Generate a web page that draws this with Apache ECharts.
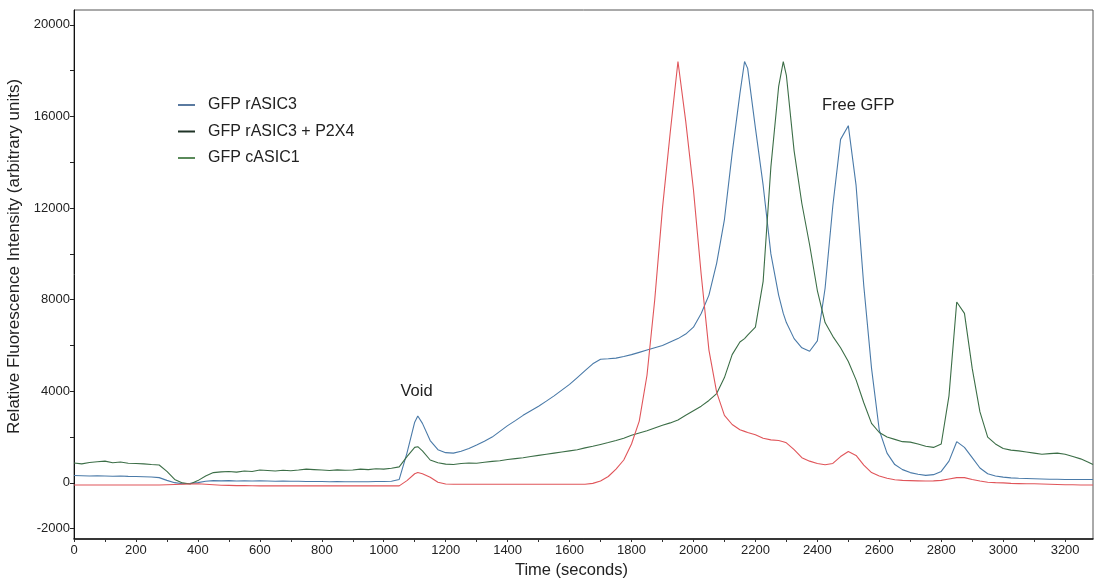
<!DOCTYPE html>
<html><head><meta charset="utf-8">
<script src="https://cdn.jsdelivr.net/npm/echarts@6/dist/echarts.min.js"></script>
<style>html,body{margin:0;padding:0;background:#fff}#c{width:1095px;height:582px}</style>
</head><body><div id="c"></div>
<script>
const time = [0,25,50,75,100,125,150,175,200,225,250,275,300,325,350,375,400,425,450,475,500,525,550,575,600,625,650,675,700,725,750,775,800,825,850,875,900,925,950,975,1000,1025,1050,1075,1100,1110,1125,1150,1175,1200,1225,1250,1275,1300,1325,1350,1375,1400,1425,1450,1475,1500,1525,1550,1575,1600,1625,1650,1675,1700,1725,1750,1775,1800,1825,1850,1875,1900,1925,1950,1975,2000,2025,2050,2075,2100,2125,2150,2165,2175,2200,2225,2250,2275,2290,2300,2325,2350,2375,2400,2425,2450,2475,2500,2525,2550,2575,2600,2625,2650,2675,2700,2725,2750,2775,2800,2825,2850,2875,2900,2925,2950,2975,3000,3025,3050,3075,3100,3125,3150,3175,3200,3225,3250,3275,3290];

const rASIC3 = [320,315,300,310,300,290,300,285,280,270,255,230,110,10,-40,-20,10,70,100,90,100,85,95,80,90,80,70,80,70,70,60,60,60,50,55,50,50,50,50,60,60,70,150,1300,2650,2920,2600,1850,1450,1320,1300,1380,1500,1650,1820,2000,2250,2500,2720,2950,3150,3350,3570,3800,4050,4300,4600,4900,5200,5400,5420,5450,5520,5600,5700,5800,5900,6000,6150,6300,6500,6800,7400,8200,9600,11500,14400,17000,18400,18100,15500,13000,10000,8200,7400,7000,6300,5900,5750,6200,8500,12100,15000,15600,13000,8600,5000,2300,1300,800,580,450,380,330,360,500,950,1800,1550,1100,650,400,300,250,220,200,190,180,170,160,160,150,150,150,150,150];

const rASIC3P2X4 = [870,830,890,920,950,880,910,860,850,830,800,780,500,150,0,-50,100,300,450,480,500,470,520,500,560,540,520,550,530,560,600,580,560,540,570,550,560,600,580,620,600,640,700,1150,1550,1580,1400,1000,880,820,800,850,870,860,900,940,970,1020,1060,1100,1150,1200,1250,1300,1350,1400,1450,1530,1600,1680,1760,1850,1950,2080,2180,2280,2400,2520,2620,2750,2950,3150,3350,3600,3900,4600,5600,6150,6300,6450,6800,8800,13800,17300,18400,17800,14500,12200,10400,8400,7000,6400,5900,5300,4500,3500,2600,2200,2000,1900,1800,1780,1700,1600,1550,1700,3800,7900,7400,5000,3100,2000,1700,1500,1430,1400,1350,1300,1250,1280,1300,1250,1150,1050,900,800];

const cASIC1 = [-90,-90,-90,-90,-90,-90,-90,-90,-90,-90,-90,-90,-80,-70,-60,-50,-40,-60,-80,-100,-110,-120,-120,-125,-130,-130,-130,-130,-130,-130,-130,-130,-130,-130,-130,-130,-130,-130,-130,-130,-130,-130,-130,100,400,450,400,250,30,-50,-60,-60,-60,-60,-60,-60,-60,-60,-60,-60,-60,-60,-60,-60,-60,-60,-60,-60,-20,80,280,600,1000,1700,2700,4700,8000,12000,15300,18400,15800,12800,9100,5800,3950,2950,2550,2320,2250,2200,2100,1950,1880,1850,1800,1750,1450,1100,950,850,790,850,1150,1370,1200,780,450,300,200,140,110,100,90,80,90,110,170,230,230,150,80,30,10,0,-20,-30,-40,-40,-50,-60,-70,-80,-80,-90,-90,-90];

const seriesNames = ['GFP rASIC3', 'GFP rASIC3 + P2X4', 'GFP cASIC1'];
const xLabelValues = [0,200,400,600,800,1000,1200,1400,1600,1800,2000,2200,2400,2600,2800,3000,3200];
const xTickValues = [0,100,200,300,400,500,600,700,800,900,1000,1100,1200,1300,1400,1500,1600,1700,1800,1900,2000,2100,2200,2300,2400,2500,2600,2700,2800,2900,3000,3100,3200];
const yLabelValues = [-2000,0,4000,8000,12000,16000,20000];
const yTickValues = [-2000,0,2000,4000,6000,8000,10000,12000,14000,16000,18000,20000];
const annotations = [{text:'Void', t:1106, v:4000}, {text:'Free GFP', t:2532, v:16500}];

const FONT = '"Liberation Sans", Arial, sans-serif';
const lineColors = ['#4a7aa8', '#3c6e47', '#e0555a'];
const legendColors = ['#5a7aa0', '#1f3326', '#5a8a5a'];
const seriesData = [rASIC3, rASIC3P2X4, cASIC1];

const chart = echarts.init(document.getElementById('c'), null, {renderer: 'canvas'});
chart.setOption({
  animation: false,
  backgroundColor: '#fff',
  textStyle: {fontFamily: FONT},
  grid: {left: 74, right: 2, top: 10, bottom: 43, show: true, borderColor: '#555', borderWidth: 1, outerBoundsMode: 'none', containLabel: false},
  legend: {
    orient: 'vertical', left: 173, top: 92, itemWidth: 17, itemHeight: 2, itemGap: 10.5, icon: 'rect',
    textStyle: {fontSize: 16, color: '#222', fontFamily: FONT, padding: [0, 0, 0, 8]},
    data: seriesNames.map((n, i) => ({name: n, itemStyle: {color: legendColors[i]}}))
  },
  xAxis: {
    type: 'value', min: 0, max: 3290,
    name: 'Time (seconds)', nameLocation: 'middle', nameGap: 15,
    nameTextStyle: {fontSize: 16.5, color: '#222', fontFamily: FONT, padding: [0, 24, 0, 0]},
    axisLine: {onZero: false, lineStyle: {color: '#111', width: 1.5}},
    axisTick: {show: true, length: 3, customValues: xTickValues, lineStyle: {color: '#333'}},
    axisLabel: {customValues: xLabelValues, fontSize: 13, color: '#222', margin: 5, fontFamily: FONT, formatter: v => String(v)},
    splitLine: {show: false}
  },
  yAxis: {
    type: 'value', min: -2450, max: 20650,
    name: 'Relative Fluorescence Intensity (arbitrary units)', nameLocation: 'middle', nameGap: 49,
    nameTextStyle: {fontSize: 17, color: '#222', fontFamily: FONT, padding: [0, 0, 0, 36]},
    axisLine: {show: true, lineStyle: {color: '#111', width: 1}},
    axisTick: {show: true, length: 4, customValues: yTickValues, lineStyle: {color: '#222'}},
    axisLabel: {customValues: yLabelValues, fontSize: 13, color: '#222', margin: 4, fontFamily: FONT, formatter: v => String(v)},
    splitLine: {show: false}
  },
  series: seriesNames.map((n, i) => ({
    name: n, type: 'line', showSymbol: false, symbol: 'none',
    lineStyle: {width: 1.1, color: lineColors[i]}, itemStyle: {color: lineColors[i]},
    data: time.map((t, k) => [t, seriesData[i][k]])
  }))
});
chart.setOption({
  graphic: annotations.map(a => {
    const p = chart.convertToPixel({gridIndex: 0}, [a.t, a.v]);
    return {type: 'text', x: p[0], y: p[1], style: {text: a.text, fill: '#222', font: '16.5px ' + FONT, align: 'center', verticalAlign: 'middle'}};
  })
});
</script></body></html>
